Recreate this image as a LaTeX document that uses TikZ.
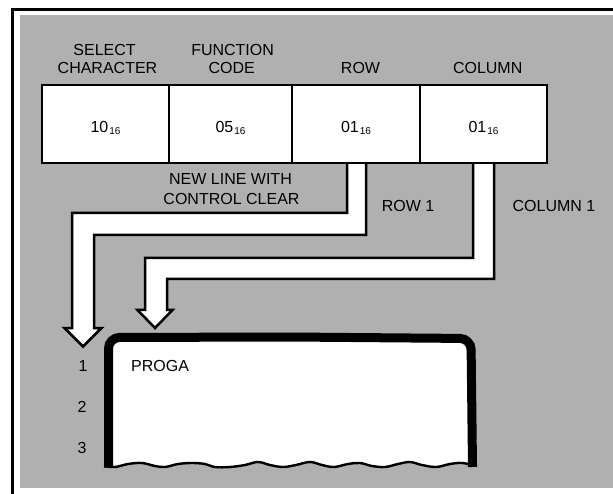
\documentclass[tikz,border=0pt]{standalone}
\usepackage{fontspec}
\setmainfont{Liberation Sans}
\newcommand\subsixteen{\hspace{1pt}\raisebox{-1.5pt}{\fontsize{10}{10}\selectfont 16}}
\begin{document}
\begin{tikzpicture}[x=1pt,y=-1pt,
  lbl/.style={font=\fontsize{16}{19}\selectfont, inner sep=0, anchor=base},
  cell/.style={draw, line width=2.5pt, fill=white, inner sep=0, minimum height=78pt},
  flow/.style={draw, line width=2.5pt, fill=white, line join=miter},
  rim/.style={draw, line width=9pt, rounded corners=11pt},
  halftone/.style={fill={rgb,255:red,176;green,176;blue,176}}
]
\useasboundingbox (0,0) rectangle (613,494);
% background
\path[halftone] (20,15) rectangle (613,488);
\draw[line width=3pt] (12,494) -- (12,10) -- (613,10);

% arrows (drawn before the boxes so the box edge closes them)
\coordinate (rowstart) at (347,163);
\coordinate (colstart) at (473,163);
\path[flow] (rowstart) -- (347,213) -- (72,213) -- (72,328) -- (64.5,328) -- (83,346.5) -- (101.5,328) -- (94,328) -- (94,235) -- (366,235) -- (366,163);
\path[flow] (colstart) -- (473,258) -- (145,258) -- (145,310) -- (137.5,310) -- (155,328) -- (172.5,310) -- (167,310) -- (167,279) -- (494,279) -- (494,163);

% boxes
\node[cell, minimum width=127pt] (b1) at (105.5,124) {};
\node[cell, minimum width=123pt] (b2) at (230.5,124) {};
\node[cell, minimum width=128pt] (b3) at (356,124) {};
\node[cell, minimum width=127pt] (b4) at (483.5,124) {};

\node[lbl] (v1) at (105.5,133) {10\subsixteen};
\node[lbl] (v2) at (230.5,133) {05\subsixteen};
\node[lbl] (v3) at (356,133) {01\subsixteen};
\node[lbl] (v4) at (483.5,133) {01\subsixteen};

% headings
\node[lbl] (h1a) at (104.6,56) {SELECT};
\node[lbl] (h1b) at (107.5,74) {CHARACTER};
\node[lbl] (h2a) at (232.6,56) {FUNCTION};
\node[lbl] (h2b) at (231.8,74) {CODE};
\node[lbl] (h3) at (360.5,74) {ROW};
\node[lbl] (h4) at (487.7,74) {COLUMN};

\node[lbl] (nl1) at (230.5,185) {NEW LINE WITH};
\node[lbl] (nl2) at (231.5,205) {CONTROL CLEAR};
\node[lbl] (r1) at (408,212) {ROW 1};
\node[lbl] (c1) at (554,212) {COLUMN 1};

% screen
\path[fill=white] (108,338) -- (472,338) -- (474,466) -- plot[smooth, tension=0.6] coordinates {(477,466) (462,463) (450,464) (436,467) (422,465) (410,462) (398,464) (385,467) (372,466) (360,463) (348,464) (334,467) (322,465) (310,462) (296,465) (283,467) (270,465) (258,462) (245,465) (230,467) (215,467) (205,464) (192,463) (178,464) (165,467) (155,466) (142,463) (128,464) (115,467) (104,466)} -- cycle;
\draw[line width=2.4pt] plot[smooth, tension=0.6] coordinates {(104,466) (115,467) (128,464) (142,463) (155,466) (165,467) (178,464) (192,463) (205,464) (215,467) (230,467) (245,465) (258,462) (270,465) (283,467) (296,465) (310,462) (322,465) (334,467) (348,464) (360,463) (372,466) (385,467) (398,464) (410,462) (422,465) (436,467) (450,464) (462,463) (477,466)};
\draw[rim] (108.5,467.5) -- (108.5,337.5) -- (290,337) -- (471,338.5) -- (472.5,467);

\node[lbl, anchor=base west] (prog) at (131,371) {PROGA};
\node[lbl] (n1) at (83,371) {1};
\node[lbl] (n2) at (82,412) {2};
\node[lbl] (n3) at (82,453) {3};
\end{tikzpicture}
\end{document}
